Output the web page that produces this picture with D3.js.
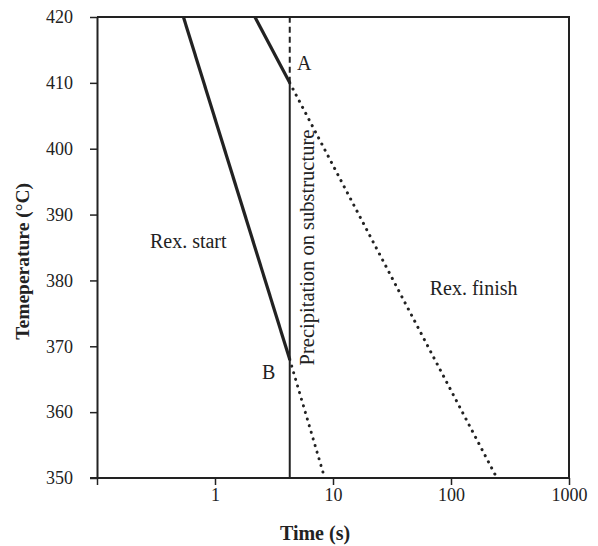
<!DOCTYPE html>
<html>
<head>
<meta charset="utf-8">
<script src="https://cdn.jsdelivr.net/npm/d3@7"></script>
<style>
body { margin: 0; background: #fff; }
text { font-family: "Liberation Serif", "Times New Roman", serif; fill: #222; }
</style>
</head>
<body>
<script>
var width = 598, height = 546;
var margin = {top: 17, right: 29, bottom: 68, left: 97};

// data
var xTicks = [0.1, 1, 10, 100, 1000];
var xTickLabels = ["", "1", "10", "100", "1000"];
var yTicks = [350, 360, 370, 380, 390, 400, 410, 420];
var tPrecip = 4.3;
var startSolid = [[0.54, 420], [4.3, 368]];
var startDotted = [[4.3, 368], [8.5, 350]];
var finishSolid = [[2.18, 420], [4.3, 410]];
var finishDotted = [[4.3, 410], [245, 350]];
var precipSolid = [[tPrecip, 350], [tPrecip, 410]];
var precipDashed = [[tPrecip, 410], [tPrecip, 420]];

var svg = d3.select("body").append("svg")
    .attr("width", width)
    .attr("height", height);

var x = d3.scaleLog().domain([0.1, 1000]).range([margin.left, width - margin.right]);
var y = d3.scaleLinear().domain([350, 420]).range([height - margin.bottom, margin.top]);

var line = d3.line()
    .x(function(d) { return x(d[0]); })
    .y(function(d) { return y(d[1]); });

// frame (top and right)
svg.append("path")
    .attr("d", "M" + x(0.1) + "," + y(420) + "H" + x(1000) + "V" + y(350))
    .attr("fill", "none")
    .attr("stroke", "#222")
    .attr("stroke-width", 2);

// x axis
var xAxis = svg.append("g")
    .attr("transform", "translate(0," + y(350) + ")")
    .call(d3.axisBottom(x).tickValues(xTicks).tickFormat(function(d, i) { return xTickLabels[i]; }).tickSize(7).tickSizeOuter(0));
xAxis.select(".domain").attr("stroke", "#222").attr("stroke-width", 2)
    .attr("d", "M" + (x(0.1) - 7) + ",0H" + x(1000));
xAxis.selectAll(".tick line").attr("stroke", "#222").attr("stroke-width", 1.5);
xAxis.selectAll(".tick text").attr("font-size", 18).attr("fill", "#222").style("font-family", "Liberation Serif");

// y axis
var yAxis = svg.append("g")
    .attr("transform", "translate(" + x(0.1) + ",0)")
    .call(d3.axisLeft(y).tickValues(yTicks).tickSize(7).tickSizeOuter(0));
yAxis.select(".domain").attr("stroke", "#222").attr("stroke-width", 2);
yAxis.selectAll(".tick line").attr("stroke", "#222").attr("stroke-width", 1.5);
yAxis.selectAll(".tick text").attr("font-size", 18).attr("x", -24).attr("fill", "#222").style("font-family", "Liberation Serif");

// curves
function draw(data, w, dash, cap) {
    svg.append("path")
        .datum(data)
        .attr("d", line)
        .attr("fill", "none")
        .attr("stroke", "#222")
        .attr("stroke-width", w)
        .attr("stroke-dasharray", dash)
        .attr("stroke-linecap", cap || "butt");
}
draw(startSolid, 3.2, null);
draw(finishSolid, 3.2, null);
draw(startDotted, 3, "0.1,6.8", "round");
draw(finishDotted, 3, "0.1,6.8", "round");
draw(precipSolid, 2, null);
draw(precipDashed, 2, "6,4");

// labels
svg.append("text").attr("x", x(4.95)).attr("y", y(411.9)).attr("font-size", 20).text("A");
svg.append("text").attr("x", x(2.5)).attr("y", y(365)).attr("font-size", 20).text("B");
svg.append("text").attr("x", x(0.281)).attr("y", y(385)).attr("font-size", 20).text("Rex. start");
svg.append("text").attr("x", x(66)).attr("y", y(377.8)).attr("font-size", 20).text("Rex. finish");
svg.append("text")
    .attr("transform", "translate(" + (x(tPrecip) + 24) + "," + y(367.1) + ") rotate(-90)")
    .attr("font-size", 20.5)
    .text("Precipitation on substructure");

// axis titles
svg.append("text")
    .attr("x", 315)
    .attr("y", 540)
    .attr("text-anchor", "middle")
    .attr("font-size", 20)
    .attr("font-weight", "bold")
    .text("Time (s)");
svg.append("text")
    .attr("transform", "translate(29," + y(382.9) + ") rotate(-90)")
    .attr("text-anchor", "middle")
    .attr("font-size", 19.5)
    .attr("font-weight", "bold")
    .text("Temeperature (°C)");
</script>
</body>
</html>
